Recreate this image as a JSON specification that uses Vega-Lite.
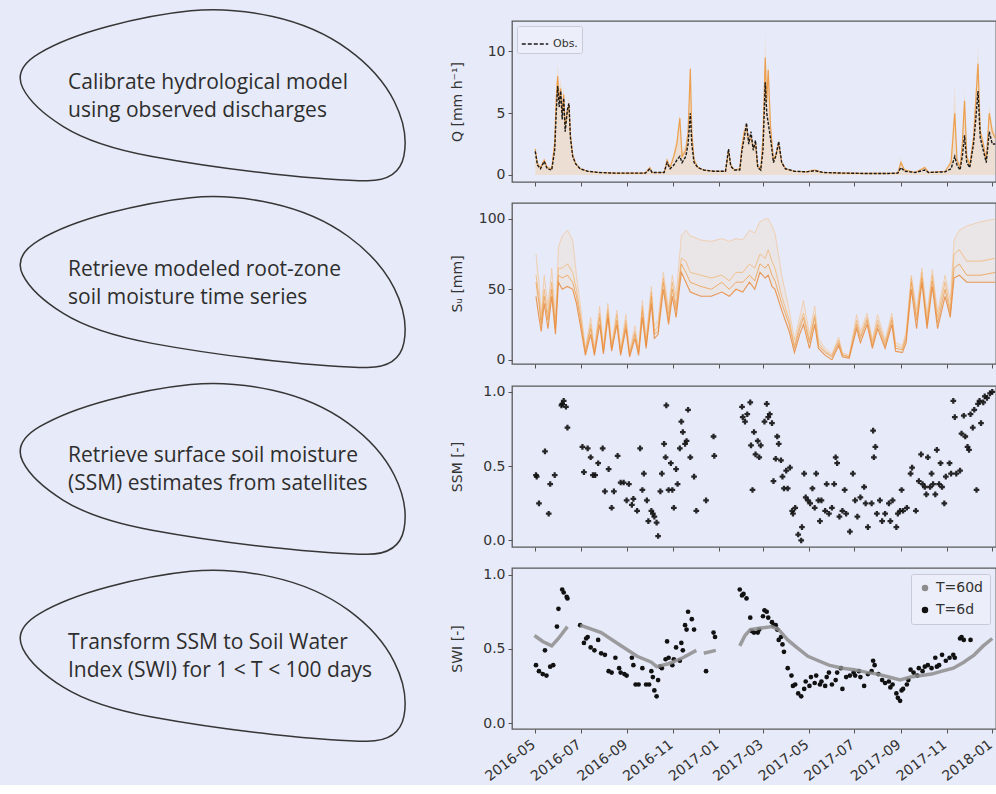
{
  "$schema": "https://vega.github.io/schema/vega-lite/v6.json",
  "background": "#e7eaf8",
  "padding": {"left": 0, "top": 6, "right": 0, "bottom": 0},
  "spacing": 29,
  "datasets": {
    "steps": [
      {"step": 1, "label": "Calibrate hydrological model\nusing observed discharges"},
      {"step": 2, "label": "Retrieve modeled root-zone\nsoil moisture time series"},
      {"step": 3, "label": "Retrieve surface soil moisture\n(SSM) estimates from satellites"},
      {"step": 4, "label": "Transform SSM to Soil Water\nIndex (SWI) for 1 < T < 100 days"}
    ],
    "q": [
      {"date":"2016-05-01","obs":1.9,"sim":2.1,"hi":2.4},
      {"date":"2016-05-04","obs":0.8,"sim":0.9,"hi":1.1},
      {"date":"2016-05-08","obs":0.5,"sim":0.6,"hi":0.7},
      {"date":"2016-05-13","obs":1.1,"sim":1.2,"hi":1.4},
      {"date":"2016-05-17","obs":0.5,"sim":0.6,"hi":0.7},
      {"date":"2016-05-23","obs":0.4,"sim":0.5,"hi":0.6},
      {"date":"2016-05-27","obs":2.0,"sim":2.6,"hi":3.2},
      {"date":"2016-05-29","obs":5.0,"sim":6.2,"hi":7.0},
      {"date":"2016-05-31","obs":7.2,"sim":8.0,"hi":9.0},
      {"date":"2016-06-02","obs":5.5,"sim":6.0,"hi":7.0},
      {"date":"2016-06-04","obs":6.8,"sim":7.0,"hi":7.8},
      {"date":"2016-06-06","obs":4.5,"sim":5.0,"hi":5.8},
      {"date":"2016-06-08","obs":6.2,"sim":6.5,"hi":7.2},
      {"date":"2016-06-10","obs":3.5,"sim":4.0,"hi":4.6},
      {"date":"2016-06-13","obs":5.3,"sim":5.2,"hi":5.8},
      {"date":"2016-06-15","obs":5.8,"sim":5.6,"hi":6.3},
      {"date":"2016-06-17","obs":3.0,"sim":3.2,"hi":3.8},
      {"date":"2016-06-20","obs":1.5,"sim":1.6,"hi":1.9},
      {"date":"2016-06-24","obs":0.9,"sim":0.9,"hi":1.1},
      {"date":"2016-06-30","obs":0.5,"sim":0.5,"hi":0.6},
      {"date":"2016-07-10","obs":0.3,"sim":0.3,"hi":0.35},
      {"date":"2016-07-25","obs":0.2,"sim":0.2,"hi":0.25},
      {"date":"2016-08-15","obs":0.15,"sim":0.15,"hi":0.2},
      {"date":"2016-09-05","obs":0.15,"sim":0.15,"hi":0.2},
      {"date":"2016-09-25","obs":0.15,"sim":0.15,"hi":0.2},
      {"date":"2016-10-01","obs":0.5,"sim":0.6,"hi":0.7},
      {"date":"2016-10-04","obs":0.2,"sim":0.2,"hi":0.25},
      {"date":"2016-10-20","obs":0.2,"sim":0.2,"hi":0.25},
      {"date":"2016-10-24","obs":1.0,"sim":1.2,"hi":1.4},
      {"date":"2016-10-28","obs":0.5,"sim":0.6,"hi":0.7},
      {"date":"2016-11-02","obs":0.8,"sim":1.5,"hi":2.0},
      {"date":"2016-11-06","obs":1.2,"sim":2.5,"hi":3.0},
      {"date":"2016-11-10","obs":1.5,"sim":4.6,"hi":5.0},
      {"date":"2016-11-13","obs":1.0,"sim":1.5,"hi":2.0},
      {"date":"2016-11-18","obs":1.5,"sim":2.0,"hi":2.4},
      {"date":"2016-11-21","obs":2.5,"sim":3.5,"hi":4.0},
      {"date":"2016-11-24","obs":5.0,"sim":8.6,"hi":9.3},
      {"date":"2016-11-26","obs":2.5,"sim":3.5,"hi":4.0},
      {"date":"2016-11-29","obs":1.0,"sim":1.2,"hi":1.5},
      {"date":"2016-12-04","obs":0.6,"sim":0.6,"hi":0.7},
      {"date":"2016-12-12","obs":0.4,"sim":0.4,"hi":0.45},
      {"date":"2016-12-25","obs":0.3,"sim":0.3,"hi":0.35},
      {"date":"2017-01-10","obs":0.3,"sim":0.3,"hi":0.35},
      {"date":"2017-01-14","obs":2.1,"sim":2.0,"hi":2.3},
      {"date":"2017-01-17","obs":0.7,"sim":0.8,"hi":0.9},
      {"date":"2017-01-22","obs":0.4,"sim":0.4,"hi":0.45},
      {"date":"2017-01-29","obs":0.4,"sim":0.5,"hi":0.6},
      {"date":"2017-02-01","obs":2.0,"sim":2.3,"hi":2.8},
      {"date":"2017-02-04","obs":3.0,"sim":3.5,"hi":4.0},
      {"date":"2017-02-07","obs":4.2,"sim":3.8,"hi":4.3},
      {"date":"2017-02-10","obs":2.5,"sim":2.8,"hi":3.2},
      {"date":"2017-02-13","obs":3.5,"sim":3.0,"hi":3.4},
      {"date":"2017-02-16","obs":2.0,"sim":2.2,"hi":2.5},
      {"date":"2017-02-19","obs":2.8,"sim":2.5,"hi":2.9},
      {"date":"2017-02-22","obs":0.6,"sim":0.7,"hi":0.9},
      {"date":"2017-02-26","obs":0.4,"sim":0.5,"hi":0.6},
      {"date":"2017-03-01","obs":2.0,"sim":3.0,"hi":4.0},
      {"date":"2017-03-04","obs":7.5,"sim":9.5,"hi":11.5},
      {"date":"2017-03-06","obs":5.0,"sim":6.0,"hi":7.0},
      {"date":"2017-03-08","obs":4.2,"sim":8.5,"hi":9.3},
      {"date":"2017-03-11","obs":3.0,"sim":4.0,"hi":4.5},
      {"date":"2017-03-15","obs":1.0,"sim":1.2,"hi":1.5},
      {"date":"2017-03-18","obs":1.5,"sim":1.6,"hi":1.8},
      {"date":"2017-03-22","obs":2.7,"sim":2.5,"hi":2.9},
      {"date":"2017-03-26","obs":1.0,"sim":1.0,"hi":1.2},
      {"date":"2017-03-31","obs":0.5,"sim":0.5,"hi":0.6},
      {"date":"2017-04-12","obs":0.3,"sim":0.3,"hi":0.35},
      {"date":"2017-04-28","obs":0.25,"sim":0.25,"hi":0.3},
      {"date":"2017-05-09","obs":0.35,"sim":0.4,"hi":0.5},
      {"date":"2017-05-20","obs":0.2,"sim":0.2,"hi":0.25},
      {"date":"2017-06-15","obs":0.15,"sim":0.15,"hi":0.2},
      {"date":"2017-07-15","obs":0.12,"sim":0.12,"hi":0.15},
      {"date":"2017-08-15","obs":0.12,"sim":0.12,"hi":0.15},
      {"date":"2017-08-28","obs":0.15,"sim":0.15,"hi":0.2},
      {"date":"2017-09-01","obs":0.6,"sim":1.0,"hi":1.4},
      {"date":"2017-09-06","obs":0.3,"sim":0.4,"hi":0.5},
      {"date":"2017-09-20","obs":0.2,"sim":0.2,"hi":0.25},
      {"date":"2017-10-03","obs":0.4,"sim":0.6,"hi":0.7},
      {"date":"2017-10-08","obs":0.2,"sim":0.2,"hi":0.25},
      {"date":"2017-10-30","obs":0.25,"sim":0.3,"hi":0.35},
      {"date":"2017-11-07","obs":0.5,"sim":1.0,"hi":1.3},
      {"date":"2017-11-12","obs":1.5,"sim":5.0,"hi":7.4},
      {"date":"2017-11-15","obs":0.8,"sim":1.2,"hi":1.5},
      {"date":"2017-11-19","obs":0.4,"sim":0.6,"hi":0.8},
      {"date":"2017-11-22","obs":1.5,"sim":2.5,"hi":3.0},
      {"date":"2017-11-25","obs":3.2,"sim":6.0,"hi":7.0},
      {"date":"2017-11-28","obs":1.0,"sim":1.5,"hi":1.8},
      {"date":"2017-12-02","obs":0.6,"sim":0.8,"hi":1.0},
      {"date":"2017-12-07","obs":2.5,"sim":3.0,"hi":3.5},
      {"date":"2017-12-10","obs":4.5,"sim":6.0,"hi":7.0},
      {"date":"2017-12-13","obs":6.8,"sim":9.0,"hi":10.5},
      {"date":"2017-12-16","obs":3.0,"sim":3.5,"hi":4.0},
      {"date":"2017-12-20","obs":2.0,"sim":2.5,"hi":3.0},
      {"date":"2017-12-24","obs":1.0,"sim":1.2,"hi":1.4},
      {"date":"2017-12-28","obs":3.5,"sim":5.0,"hi":5.6},
      {"date":"2018-01-01","obs":2.5,"sim":3.5,"hi":4.0},
      {"date":"2018-01-05","obs":2.5,"sim":3.0,"hi":3.5}
    ],
    "su": [
      {"date":"2016-05-02","s1":45,"s2":55,"s3":60,"s4":75},
      {"date":"2016-05-06","s1":30,"s2":40,"s3":45,"s4":55},
      {"date":"2016-05-09","s1":20,"s2":25,"s3":28,"s4":32},
      {"date":"2016-05-13","s1":40,"s2":45,"s3":50,"s4":60},
      {"date":"2016-05-18","s1":22,"s2":28,"s3":32,"s4":38},
      {"date":"2016-05-23","s1":45,"s2":50,"s3":55,"s4":65},
      {"date":"2016-05-28","s1":18,"s2":22,"s3":25,"s4":30},
      {"date":"2016-06-01","s1":55,"s2":60,"s3":65,"s4":80},
      {"date":"2016-06-06","s1":50,"s2":58,"s3":65,"s4":88},
      {"date":"2016-06-13","s1":52,"s2":60,"s3":68,"s4":92},
      {"date":"2016-06-20","s1":50,"s2":55,"s3":62,"s4":85},
      {"date":"2016-06-25","s1":40,"s2":45,"s3":50,"s4":60},
      {"date":"2016-06-30","s1":25,"s2":30,"s3":33,"s4":40},
      {"date":"2016-07-07","s1":3,"s2":5,"s3":6,"s4":8},
      {"date":"2016-07-14","s1":18,"s2":22,"s3":25,"s4":30},
      {"date":"2016-07-19","s1":3,"s2":5,"s3":6,"s4":8},
      {"date":"2016-07-26","s1":25,"s2":30,"s3":33,"s4":38},
      {"date":"2016-07-31","s1":4,"s2":6,"s3":7,"s4":9},
      {"date":"2016-08-06","s1":30,"s2":33,"s3":36,"s4":40},
      {"date":"2016-08-11","s1":6,"s2":8,"s3":9,"s4":11},
      {"date":"2016-08-18","s1":25,"s2":28,"s3":32,"s4":35},
      {"date":"2016-08-23","s1":3,"s2":5,"s3":6,"s4":8},
      {"date":"2016-08-30","s1":22,"s2":25,"s3":28,"s4":32},
      {"date":"2016-09-04","s1":2,"s2":3,"s3":4,"s4":6},
      {"date":"2016-09-11","s1":15,"s2":18,"s3":20,"s4":24},
      {"date":"2016-09-16","s1":3,"s2":5,"s3":6,"s4":8},
      {"date":"2016-09-21","s1":30,"s2":35,"s3":38,"s4":42},
      {"date":"2016-09-26","s1":8,"s2":10,"s3":12,"s4":15},
      {"date":"2016-10-03","s1":40,"s2":45,"s3":48,"s4":52},
      {"date":"2016-10-07","s1":15,"s2":18,"s3":20,"s4":24},
      {"date":"2016-10-12","s1":18,"s2":20,"s3":24,"s4":28},
      {"date":"2016-10-19","s1":50,"s2":55,"s3":58,"s4":62},
      {"date":"2016-10-26","s1":25,"s2":28,"s3":32,"s4":36},
      {"date":"2016-10-31","s1":45,"s2":50,"s3":55,"s4":60},
      {"date":"2016-11-05","s1":30,"s2":35,"s3":38,"s4":45},
      {"date":"2016-11-12","s1":62,"s2":68,"s3":72,"s4":88},
      {"date":"2016-11-18","s1":55,"s2":62,"s3":70,"s4":92},
      {"date":"2016-11-24","s1":48,"s2":55,"s3":62,"s4":88},
      {"date":"2016-12-08","s1":45,"s2":52,"s3":60,"s4":85},
      {"date":"2016-12-22","s1":45,"s2":50,"s3":58,"s4":84},
      {"date":"2017-01-05","s1":48,"s2":55,"s3":60,"s4":86},
      {"date":"2017-01-15","s1":45,"s2":50,"s3":56,"s4":84},
      {"date":"2017-01-24","s1":50,"s2":55,"s3":62,"s4":86},
      {"date":"2017-02-02","s1":48,"s2":55,"s3":62,"s4":85},
      {"date":"2017-02-11","s1":55,"s2":60,"s3":68,"s4":92},
      {"date":"2017-02-18","s1":50,"s2":56,"s3":65,"s4":90},
      {"date":"2017-02-25","s1":62,"s2":68,"s3":75,"s4":98},
      {"date":"2017-03-04","s1":58,"s2":65,"s3":72,"s4":100},
      {"date":"2017-03-08","s1":60,"s2":68,"s3":78,"s4":100},
      {"date":"2017-03-13","s1":52,"s2":60,"s3":70,"s4":95},
      {"date":"2017-03-17","s1":50,"s2":56,"s3":65,"s4":90},
      {"date":"2017-03-26","s1":35,"s2":40,"s3":45,"s4":60},
      {"date":"2017-04-05","s1":20,"s2":25,"s3":28,"s4":35},
      {"date":"2017-04-12","s1":5,"s2":8,"s3":10,"s4":14},
      {"date":"2017-04-19","s1":18,"s2":22,"s3":25,"s4":30},
      {"date":"2017-04-24","s1":25,"s2":30,"s3":33,"s4":42},
      {"date":"2017-05-02","s1":8,"s2":12,"s3":14,"s4":18},
      {"date":"2017-05-09","s1":25,"s2":30,"s3":32,"s4":38},
      {"date":"2017-05-14","s1":8,"s2":10,"s3":12,"s4":15},
      {"date":"2017-05-23","s1":3,"s2":5,"s3":6,"s4":8},
      {"date":"2017-06-01","s1":0,"s2":2,"s3":3,"s4":4},
      {"date":"2017-06-10","s1":10,"s2":12,"s3":14,"s4":16},
      {"date":"2017-06-15","s1":2,"s2":3,"s3":4,"s4":5},
      {"date":"2017-06-24","s1":1,"s2":2,"s3":2,"s4":3},
      {"date":"2017-07-04","s1":22,"s2":25,"s3":28,"s4":32},
      {"date":"2017-07-09","s1":12,"s2":15,"s3":17,"s4":20},
      {"date":"2017-07-18","s1":25,"s2":28,"s3":30,"s4":33},
      {"date":"2017-07-25","s1":8,"s2":10,"s3":12,"s4":14},
      {"date":"2017-08-01","s1":22,"s2":25,"s3":28,"s4":32},
      {"date":"2017-08-11","s1":8,"s2":10,"s3":12,"s4":14},
      {"date":"2017-08-20","s1":25,"s2":28,"s3":30,"s4":33},
      {"date":"2017-08-25","s1":6,"s2":8,"s3":10,"s4":12},
      {"date":"2017-09-03","s1":5,"s2":7,"s3":8,"s4":10},
      {"date":"2017-09-08","s1":12,"s2":15,"s3":17,"s4":20},
      {"date":"2017-09-15","s1":50,"s2":55,"s3":58,"s4":60},
      {"date":"2017-09-22","s1":22,"s2":28,"s3":30,"s4":35},
      {"date":"2017-09-29","s1":55,"s2":58,"s3":62,"s4":65},
      {"date":"2017-10-06","s1":22,"s2":25,"s3":28,"s4":32},
      {"date":"2017-10-13","s1":52,"s2":56,"s3":60,"s4":64},
      {"date":"2017-10-20","s1":22,"s2":26,"s3":30,"s4":34},
      {"date":"2017-10-30","s1":45,"s2":50,"s3":55,"s4":60},
      {"date":"2017-11-06","s1":30,"s2":33,"s3":36,"s4":42},
      {"date":"2017-11-11","s1":58,"s2":65,"s3":75,"s4":85},
      {"date":"2017-11-18","s1":60,"s2":68,"s3":78,"s4":92},
      {"date":"2017-11-28","s1":55,"s2":60,"s3":70,"s4":95},
      {"date":"2017-12-17","s1":55,"s2":60,"s3":70,"s4":98},
      {"date":"2018-01-05","s1":55,"s2":62,"s3":72,"s4":100}
    ],
    "ssm": [
      {"date":"2016-05-02","v":0.44},{"date":"2016-05-03","v":0.43},{"date":"2016-05-06","v":0.25},{"date":"2016-05-14","v":0.60},
      {"date":"2016-05-19","v":0.18},{"date":"2016-05-21","v":0.38},{"date":"2016-05-27","v":0.44},{"date":"2016-06-05","v":0.91},
      {"date":"2016-06-06","v":0.92},{"date":"2016-06-08","v":0.94},{"date":"2016-06-11","v":0.90},{"date":"2016-06-13","v":0.76},
      {"date":"2016-07-03","v":0.63},{"date":"2016-07-05","v":0.46},{"date":"2016-07-10","v":0.62},{"date":"2016-07-14","v":0.56},
      {"date":"2016-07-17","v":0.44},{"date":"2016-07-20","v":0.44},{"date":"2016-07-24","v":0.52},{"date":"2016-07-30","v":0.62},
      {"date":"2016-08-02","v":0.33},{"date":"2016-08-07","v":0.48},{"date":"2016-08-11","v":0.22},{"date":"2016-08-14","v":0.33},
      {"date":"2016-08-19","v":0.57},{"date":"2016-08-23","v":0.39},{"date":"2016-08-27","v":0.39},{"date":"2016-08-31","v":0.27},
      {"date":"2016-09-03","v":0.38},{"date":"2016-09-07","v":0.24},{"date":"2016-09-09","v":0.28},{"date":"2016-09-14","v":0.20},
      {"date":"2016-09-18","v":0.62},{"date":"2016-09-21","v":0.34},{"date":"2016-09-23","v":0.45},{"date":"2016-09-27","v":0.27},
      {"date":"2016-09-29","v":0.13},{"date":"2016-10-03","v":0.20},{"date":"2016-10-05","v":0.18},{"date":"2016-10-07","v":0.16},
      {"date":"2016-10-10","v":0.12},{"date":"2016-10-12","v":0.03},{"date":"2016-10-15","v":0.33},{"date":"2016-10-17","v":0.45},
      {"date":"2016-10-20","v":0.65},{"date":"2016-10-22","v":0.56},{"date":"2016-10-23","v":0.91},{"date":"2016-10-26","v":0.34},
      {"date":"2016-10-29","v":0.52},{"date":"2016-10-31","v":0.34},{"date":"2016-11-02","v":0.22},{"date":"2016-11-05","v":0.48},
      {"date":"2016-11-07","v":0.38},{"date":"2016-11-10","v":0.62},{"date":"2016-11-12","v":0.80},{"date":"2016-11-14","v":0.73},
      {"date":"2016-11-17","v":0.65},{"date":"2016-11-19","v":0.67},{"date":"2016-11-21","v":0.88},{"date":"2016-11-24","v":0.56},
      {"date":"2016-11-29","v":0.43},{"date":"2016-12-02","v":0.20},{"date":"2016-12-15","v":0.27},{"date":"2016-12-25","v":0.70},
      {"date":"2016-12-26","v":0.57},
      {"date":"2017-02-01","v":0.90},{"date":"2017-02-02","v":0.83},{"date":"2017-02-05","v":0.80},{"date":"2017-02-08","v":0.85},
      {"date":"2017-02-12","v":0.93},{"date":"2017-02-13","v":0.64},{"date":"2017-02-15","v":0.34},{"date":"2017-02-17","v":0.73},
      {"date":"2017-02-19","v":0.58},{"date":"2017-02-22","v":0.67},{"date":"2017-02-24","v":0.56},{"date":"2017-02-26","v":0.64},
      {"date":"2017-03-03","v":0.80},{"date":"2017-03-06","v":0.92},{"date":"2017-03-08","v":0.83},{"date":"2017-03-10","v":0.85},
      {"date":"2017-03-13","v":0.79},{"date":"2017-03-15","v":0.40},{"date":"2017-03-18","v":0.55},{"date":"2017-03-20","v":0.70},
      {"date":"2017-03-22","v":0.65},{"date":"2017-03-25","v":0.54},{"date":"2017-03-27","v":0.43},{"date":"2017-03-29","v":0.35},
      {"date":"2017-04-01","v":0.47},{"date":"2017-04-03","v":0.35},{"date":"2017-04-06","v":0.49},{"date":"2017-04-09","v":0.20},
      {"date":"2017-04-10","v":0.18},{"date":"2017-04-13","v":0.22},{"date":"2017-04-17","v":0.04},{"date":"2017-04-21","v":0.00},
      {"date":"2017-04-22","v":0.09},{"date":"2017-04-25","v":0.45},{"date":"2017-04-27","v":0.29},{"date":"2017-04-30","v":0.27},
      {"date":"2017-05-03","v":0.25},{"date":"2017-05-06","v":0.35},{"date":"2017-05-09","v":0.22},{"date":"2017-05-11","v":0.45},
      {"date":"2017-05-14","v":0.27},{"date":"2017-05-16","v":0.13},{"date":"2017-05-18","v":0.27},{"date":"2017-05-23","v":0.20},
      {"date":"2017-05-25","v":0.38},{"date":"2017-05-28","v":0.18},{"date":"2017-06-01","v":0.22},{"date":"2017-06-04","v":0.38},
      {"date":"2017-06-06","v":0.56},{"date":"2017-06-08","v":0.52},{"date":"2017-06-11","v":0.16},{"date":"2017-06-15","v":0.20},
      {"date":"2017-06-18","v":0.34},{"date":"2017-06-20","v":0.18},{"date":"2017-06-25","v":0.06},{"date":"2017-06-29","v":0.45},
      {"date":"2017-07-02","v":0.27},{"date":"2017-07-05","v":0.16},{"date":"2017-07-09","v":0.29},{"date":"2017-07-14","v":0.36},
      {"date":"2017-07-16","v":0.25},{"date":"2017-07-19","v":0.09},{"date":"2017-07-24","v":0.25},{"date":"2017-07-26","v":0.74},
      {"date":"2017-07-27","v":0.56},{"date":"2017-07-29","v":0.63},{"date":"2017-07-31","v":0.18},{"date":"2017-08-04","v":0.27},
      {"date":"2017-08-07","v":0.13},{"date":"2017-08-11","v":0.18},{"date":"2017-08-16","v":0.25},{"date":"2017-08-18","v":0.13},
      {"date":"2017-08-21","v":0.27},{"date":"2017-08-26","v":0.09},{"date":"2017-08-28","v":0.18},{"date":"2017-08-31","v":0.20},
      {"date":"2017-09-02","v":0.34},{"date":"2017-09-04","v":0.20},{"date":"2017-09-09","v":0.22},{"date":"2017-09-14","v":0.45},
      {"date":"2017-09-16","v":0.49},{"date":"2017-09-21","v":0.20},{"date":"2017-09-25","v":0.40},{"date":"2017-09-28","v":0.58},
      {"date":"2017-09-30","v":0.38},{"date":"2017-10-03","v":0.36},{"date":"2017-10-05","v":0.31},{"date":"2017-10-07","v":0.56},
      {"date":"2017-10-10","v":0.36},{"date":"2017-10-12","v":0.45},{"date":"2017-10-14","v":0.38},{"date":"2017-10-17","v":0.31},
      {"date":"2017-10-19","v":0.61},{"date":"2017-10-22","v":0.38},{"date":"2017-10-24","v":0.52},{"date":"2017-10-26","v":0.36},
      {"date":"2017-10-29","v":0.25},{"date":"2017-10-31","v":0.43},{"date":"2017-11-05","v":0.52},{"date":"2017-11-07","v":0.45},
      {"date":"2017-11-10","v":0.94},{"date":"2017-11-12","v":0.83},{"date":"2017-11-14","v":0.45},{"date":"2017-11-19","v":0.47},
      {"date":"2017-11-21","v":0.72},{"date":"2017-11-24","v":0.84},{"date":"2017-11-26","v":0.70},{"date":"2017-11-29","v":0.63},
      {"date":"2017-12-01","v":0.61},{"date":"2017-12-03","v":0.85},{"date":"2017-12-06","v":0.76},{"date":"2017-12-08","v":0.88},
      {"date":"2017-12-11","v":0.34},{"date":"2017-12-13","v":0.92},{"date":"2017-12-15","v":0.94},{"date":"2017-12-17","v":0.79},
      {"date":"2017-12-20","v":0.93},{"date":"2017-12-22","v":0.97},{"date":"2017-12-25","v":0.96},{"date":"2017-12-29","v":0.99},
      {"date":"2018-01-01","v":1.00}
    ],
    "swi": [
      {"date":"2016-04-30","v":0.59,"series":"T=60d","seg":1},
      {"date":"2016-05-11","v":0.55,"series":"T=60d","seg":1},
      {"date":"2016-05-23","v":0.52,"series":"T=60d","seg":1},
      {"date":"2016-06-01","v":0.57,"series":"T=60d","seg":1},
      {"date":"2016-06-13","v":0.65,"series":"T=60d","seg":1},
      {"date":"2016-06-30","v":0.66,"series":"T=60d","seg":2},
      {"date":"2016-07-28","v":0.61,"series":"T=60d","seg":2},
      {"date":"2016-08-21","v":0.53,"series":"T=60d","seg":2},
      {"date":"2016-09-14","v":0.45,"series":"T=60d","seg":2},
      {"date":"2016-10-03","v":0.41,"series":"T=60d","seg":2},
      {"date":"2016-10-10","v":0.38,"series":"T=60d","seg":2},
      {"date":"2016-10-26","v":0.40,"series":"T=60d","seg":2},
      {"date":"2016-11-14","v":0.44,"series":"T=60d","seg":2},
      {"date":"2016-12-02","v":0.49,"series":"T=60d","seg":2},
      {"date":"2016-12-12","v":0.47,"series":"T=60d","seg":3},
      {"date":"2016-12-28","v":0.49,"series":"T=60d","seg":3},
      {"date":"2017-01-29","v":0.52,"series":"T=60d","seg":4},
      {"date":"2017-02-05","v":0.59,"series":"T=60d","seg":4},
      {"date":"2017-02-12","v":0.63,"series":"T=60d","seg":4},
      {"date":"2017-02-26","v":0.64,"series":"T=60d","seg":4},
      {"date":"2017-03-13","v":0.65,"series":"T=60d","seg":4},
      {"date":"2017-03-22","v":0.63,"series":"T=60d","seg":4},
      {"date":"2017-04-03","v":0.56,"series":"T=60d","seg":4},
      {"date":"2017-04-15","v":0.51,"series":"T=60d","seg":4},
      {"date":"2017-04-30","v":0.45,"series":"T=60d","seg":4},
      {"date":"2017-05-14","v":0.42,"series":"T=60d","seg":4},
      {"date":"2017-05-28","v":0.39,"series":"T=60d","seg":4},
      {"date":"2017-06-15","v":0.37,"series":"T=60d","seg":4},
      {"date":"2017-07-01","v":0.36,"series":"T=60d","seg":4},
      {"date":"2017-07-19","v":0.34,"series":"T=60d","seg":4},
      {"date":"2017-08-01","v":0.33,"series":"T=60d","seg":4},
      {"date":"2017-08-16","v":0.31,"series":"T=60d","seg":4},
      {"date":"2017-08-31","v":0.29,"series":"T=60d","seg":4},
      {"date":"2017-09-14","v":0.31,"series":"T=60d","seg":4},
      {"date":"2017-09-28","v":0.32,"series":"T=60d","seg":4},
      {"date":"2017-10-12","v":0.33,"series":"T=60d","seg":4},
      {"date":"2017-10-26","v":0.35,"series":"T=60d","seg":4},
      {"date":"2017-11-10","v":0.37,"series":"T=60d","seg":4},
      {"date":"2017-11-24","v":0.41,"series":"T=60d","seg":4},
      {"date":"2017-12-08","v":0.46,"series":"T=60d","seg":4},
      {"date":"2017-12-20","v":0.52,"series":"T=60d","seg":4},
      {"date":"2018-01-01","v":0.57,"series":"T=60d","seg":4},
      {"date":"2016-05-02","v":0.39,"series":"T=6d"},{"date":"2016-05-06","v":0.35,"series":"T=6d"},{"date":"2016-05-11","v":0.33,"series":"T=6d"},
      {"date":"2016-05-14","v":0.49,"series":"T=6d"},{"date":"2016-05-16","v":0.32,"series":"T=6d"},{"date":"2016-05-21","v":0.38,"series":"T=6d"},
      {"date":"2016-05-25","v":0.39,"series":"T=6d"},{"date":"2016-05-30","v":0.65,"series":"T=6d"},{"date":"2016-06-01","v":0.77,"series":"T=6d"},
      {"date":"2016-06-06","v":0.90,"series":"T=6d"},{"date":"2016-06-08","v":0.88,"series":"T=6d"},{"date":"2016-06-12","v":0.85,"series":"T=6d"},
      {"date":"2016-06-13","v":0.84,"series":"T=6d"},{"date":"2016-06-30","v":0.66,"series":"T=6d"},{"date":"2016-07-05","v":0.54,"series":"T=6d"},
      {"date":"2016-07-08","v":0.57,"series":"T=6d"},{"date":"2016-07-10","v":0.58,"series":"T=6d"},{"date":"2016-07-14","v":0.51,"series":"T=6d"},
      {"date":"2016-07-19","v":0.49,"series":"T=6d"},{"date":"2016-07-24","v":0.56,"series":"T=6d"},{"date":"2016-07-28","v":0.47,"series":"T=6d"},
      {"date":"2016-08-02","v":0.46,"series":"T=6d"},{"date":"2016-08-07","v":0.35,"series":"T=6d"},{"date":"2016-08-11","v":0.34,"series":"T=6d"},
      {"date":"2016-08-16","v":0.44,"series":"T=6d"},{"date":"2016-08-21","v":0.37,"series":"T=6d"},{"date":"2016-08-23","v":0.34,"series":"T=6d"},
      {"date":"2016-08-28","v":0.33,"series":"T=6d"},{"date":"2016-08-31","v":0.32,"series":"T=6d"},{"date":"2016-09-07","v":0.44,"series":"T=6d"},
      {"date":"2016-09-09","v":0.39,"series":"T=6d"},{"date":"2016-09-12","v":0.26,"series":"T=6d"},{"date":"2016-09-16","v":0.26,"series":"T=6d"},
      {"date":"2016-09-21","v":0.37,"series":"T=6d"},{"date":"2016-09-26","v":0.26,"series":"T=6d"},{"date":"2016-09-30","v":0.26,"series":"T=6d"},
      {"date":"2016-10-03","v":0.35,"series":"T=6d"},{"date":"2016-10-05","v":0.31,"series":"T=6d"},{"date":"2016-10-07","v":0.22,"series":"T=6d"},
      {"date":"2016-10-10","v":0.18,"series":"T=6d"},{"date":"2016-10-12","v":0.29,"series":"T=6d"},{"date":"2016-10-15","v":0.38,"series":"T=6d"},
      {"date":"2016-10-17","v":0.37,"series":"T=6d"},{"date":"2016-10-22","v":0.43,"series":"T=6d"},{"date":"2016-10-24","v":0.55,"series":"T=6d"},
      {"date":"2016-10-26","v":0.44,"series":"T=6d"},{"date":"2016-10-31","v":0.39,"series":"T=6d"},{"date":"2016-11-02","v":0.43,"series":"T=6d"},
      {"date":"2016-11-05","v":0.51,"series":"T=6d"},{"date":"2016-11-10","v":0.42,"series":"T=6d"},{"date":"2016-11-12","v":0.54,"series":"T=6d"},
      {"date":"2016-11-14","v":0.49,"series":"T=6d"},{"date":"2016-11-17","v":0.66,"series":"T=6d"},{"date":"2016-11-19","v":0.63,"series":"T=6d"},
      {"date":"2016-11-21","v":0.75,"series":"T=6d"},{"date":"2016-11-26","v":0.70,"series":"T=6d"},{"date":"2016-11-29","v":0.63,"series":"T=6d"},
      {"date":"2016-12-15","v":0.35,"series":"T=6d"},{"date":"2016-12-25","v":0.61,"series":"T=6d"},{"date":"2016-12-27","v":0.58,"series":"T=6d"},
      {"date":"2017-01-29","v":0.90,"series":"T=6d"},{"date":"2017-02-01","v":0.86,"series":"T=6d"},{"date":"2017-02-03","v":0.87,"series":"T=6d"},
      {"date":"2017-02-07","v":0.84,"series":"T=6d"},{"date":"2017-02-12","v":0.71,"series":"T=6d"},{"date":"2017-02-14","v":0.62,"series":"T=6d"},
      {"date":"2017-02-17","v":0.61,"series":"T=6d"},{"date":"2017-02-22","v":0.61,"series":"T=6d"},{"date":"2017-02-24","v":0.63,"series":"T=6d"},
      {"date":"2017-03-01","v":0.72,"series":"T=6d"},{"date":"2017-03-03","v":0.76,"series":"T=6d"},{"date":"2017-03-06","v":0.75,"series":"T=6d"},
      {"date":"2017-03-08","v":0.71,"series":"T=6d"},{"date":"2017-03-13","v":0.68,"series":"T=6d"},{"date":"2017-03-15","v":0.66,"series":"T=6d"},
      {"date":"2017-03-18","v":0.66,"series":"T=6d"},{"date":"2017-03-20","v":0.63,"series":"T=6d"},{"date":"2017-03-22","v":0.56,"series":"T=6d"},
      {"date":"2017-03-25","v":0.58,"series":"T=6d"},{"date":"2017-03-27","v":0.53,"series":"T=6d"},{"date":"2017-03-29","v":0.48,"series":"T=6d"},
      {"date":"2017-04-03","v":0.37,"series":"T=6d"},{"date":"2017-04-08","v":0.32,"series":"T=6d"},{"date":"2017-04-10","v":0.25,"series":"T=6d"},
      {"date":"2017-04-13","v":0.26,"series":"T=6d"},{"date":"2017-04-17","v":0.20,"series":"T=6d"},{"date":"2017-04-21","v":0.18,"series":"T=6d"},
      {"date":"2017-04-25","v":0.23,"series":"T=6d"},{"date":"2017-04-27","v":0.28,"series":"T=6d"},{"date":"2017-05-02","v":0.25,"series":"T=6d"},
      {"date":"2017-05-04","v":0.31,"series":"T=6d"},{"date":"2017-05-09","v":0.27,"series":"T=6d"},{"date":"2017-05-11","v":0.32,"series":"T=6d"},
      {"date":"2017-05-16","v":0.26,"series":"T=6d"},{"date":"2017-05-18","v":0.28,"series":"T=6d"},{"date":"2017-05-23","v":0.25,"series":"T=6d"},
      {"date":"2017-05-25","v":0.31,"series":"T=6d"},{"date":"2017-05-28","v":0.34,"series":"T=6d"},{"date":"2017-06-01","v":0.26,"series":"T=6d"},
      {"date":"2017-06-06","v":0.29,"series":"T=6d"},{"date":"2017-06-08","v":0.34,"series":"T=6d"},{"date":"2017-06-13","v":0.37,"series":"T=6d"},
      {"date":"2017-06-15","v":0.23,"series":"T=6d"},{"date":"2017-06-20","v":0.31,"series":"T=6d"},{"date":"2017-06-25","v":0.32,"series":"T=6d"},
      {"date":"2017-06-30","v":0.34,"series":"T=6d"},{"date":"2017-07-02","v":0.32,"series":"T=6d"},{"date":"2017-07-07","v":0.35,"series":"T=6d"},
      {"date":"2017-07-09","v":0.31,"series":"T=6d"},{"date":"2017-07-14","v":0.25,"series":"T=6d"},{"date":"2017-07-19","v":0.33,"series":"T=6d"},
      {"date":"2017-07-24","v":0.35,"series":"T=6d"},{"date":"2017-07-26","v":0.42,"series":"T=6d"},{"date":"2017-07-28","v":0.39,"series":"T=6d"},
      {"date":"2017-08-02","v":0.33,"series":"T=6d"},{"date":"2017-08-07","v":0.29,"series":"T=6d"},{"date":"2017-08-11","v":0.27,"series":"T=6d"},
      {"date":"2017-08-16","v":0.28,"series":"T=6d"},{"date":"2017-08-18","v":0.24,"series":"T=6d"},{"date":"2017-08-21","v":0.26,"series":"T=6d"},
      {"date":"2017-08-26","v":0.20,"series":"T=6d"},{"date":"2017-08-28","v":0.17,"series":"T=6d"},{"date":"2017-08-31","v":0.15,"series":"T=6d"},
      {"date":"2017-09-02","v":0.22,"series":"T=6d"},{"date":"2017-09-04","v":0.23,"series":"T=6d"},{"date":"2017-09-09","v":0.26,"series":"T=6d"},
      {"date":"2017-09-11","v":0.29,"series":"T=6d"},{"date":"2017-09-14","v":0.36,"series":"T=6d"},{"date":"2017-09-18","v":0.34,"series":"T=6d"},
      {"date":"2017-09-23","v":0.32,"series":"T=6d"},{"date":"2017-09-25","v":0.37,"series":"T=6d"},{"date":"2017-09-30","v":0.35,"series":"T=6d"},
      {"date":"2017-10-03","v":0.38,"series":"T=6d"},{"date":"2017-10-07","v":0.39,"series":"T=6d"},{"date":"2017-10-12","v":0.37,"series":"T=6d"},
      {"date":"2017-10-17","v":0.44,"series":"T=6d"},{"date":"2017-10-19","v":0.38,"series":"T=6d"},{"date":"2017-10-22","v":0.39,"series":"T=6d"},
      {"date":"2017-10-26","v":0.46,"series":"T=6d"},{"date":"2017-10-31","v":0.42,"series":"T=6d"},{"date":"2017-11-05","v":0.44,"series":"T=6d"},
      {"date":"2017-11-10","v":0.46,"series":"T=6d"},{"date":"2017-11-12","v":0.44,"series":"T=6d"},{"date":"2017-11-19","v":0.57,"series":"T=6d"},
      {"date":"2017-11-21","v":0.58,"series":"T=6d"},{"date":"2017-11-24","v":0.56,"series":"T=6d"},{"date":"2017-12-03","v":0.56,"series":"T=6d"}
    ]
  },
  "hconcat": [
    {
      "width": 420,
      "height": 710,
      "view": {"stroke": null},
      "data": {"name": "steps"},
      "encoding": {
        "y": {"field": "step", "type": "ordinal", "scale": {"type": "point", "padding": 0.4}, "axis": null}
      },
      "layer": [
        {
          "mark": {"type": "point", "shape": "M -0.885 -0.22 Q -0.75 -0.30 -0.525 -0.36 Q -0.30 -0.42 -0.10 -0.44 Q 0.10 -0.46 0.325 -0.41 Q 0.55 -0.36 0.715 -0.24 Q 0.88 -0.12 0.955 0.03 Q 1.03 0.18 1.005 0.31 Q 0.98 0.44 0.815 0.44 Q 0.65 0.44 0.325 0.405 Q 0 0.37 -0.30 0.315 Q -0.60 0.26 -0.76 0.16 Q -0.92 0.06 -0.97 -0.04 Q -1.02 -0.14 -0.885 -0.22 Z", "size": 148996, "filled": false, "stroke": "#363636", "strokeWidth": 1.5, "opacity": 1}
        },
        {
          "mark": {"type": "text", "align": "left", "baseline": "middle", "dx": -142, "dy": -13, "font": "Open Sans", "fontSize": 21, "lineHeight": 28, "lineBreak": "\n", "color": "#2e2e2e"},
          "encoding": {"text": {"field": "label"}}
        }
      ]
    },
    {
      "resolve": {"scale": {"color": "independent"}, "legend": {"color": "independent"}},
      "spacing": 14,
      "vconcat": [
        {
          "width": 484,
          "height": 161,
          "data": {"name": "q"},
          "encoding": {
            "x": {"field": "date", "type": "temporal",
              "scale": {"domain": [{"year": 2016, "month": 3, "date": 31}, {"year": 2018, "month": 1, "date": 6}]},
              "axis": {"title": null, "labels": false, "values": [{"year":2016,"month":5,"date":1},{"year":2016,"month":7,"date":1},{"year":2016,"month":9,"date":1},{"year":2016,"month":11,"date":1},{"year":2017,"month":1,"date":1},{"year":2017,"month":3,"date":1},{"year":2017,"month":5,"date":1},{"year":2017,"month":7,"date":1},{"year":2017,"month":9,"date":1},{"year":2017,"month":11,"date":1},{"year":2018,"month":1,"date":1}]}}
          },
          "layer": [
            {
              "mark": {"type": "area", "color": "#f8c27a", "opacity": 0.3},
              "encoding": {"y": {"field": "hi", "type": "quantitative", "scale": {"domain": [-0.57, 12.46], "nice": false, "zero": false},
                "axis": {"values": [0, 5, 10], "title": "Q [mm h⁻¹]", "titleX": -48}}}
            },
            {
              "mark": {"type": "line", "color": "#ec9436", "strokeWidth": 1.2, "opacity": 0.85},
              "encoding": {"y": {"field": "sim", "type": "quantitative", "scale": {"domain": [-0.57, 12.46], "nice": false, "zero": false}}}
            },
            {
              "mark": {"type": "line", "strokeWidth": 1.4, "strokeDash": [3, 1.5]},
              "encoding": {
                "y": {"field": "obs", "type": "quantitative", "scale": {"domain": [-0.57, 12.46], "nice": false, "zero": false}},
                "color": {"datum": "Obs.", "scale": {"range": ["#1a1a1a"]},
                  "legend": {"title": null, "orient": "top-left", "offset": 5, "symbolType": "stroke", "symbolDash": [4, 2], "symbolStrokeWidth": 1.5, "symbolSize": 700, "labelFontSize": 11, "fillColor": "#eceefa", "strokeColor": "#c9cad8", "padding": 4, "cornerRadius": 2}}
              }
            }
          ]
        },
        {
          "width": 484,
          "height": 161,
          "data": {"name": "su"},
          "encoding": {
            "x": {"field": "date", "type": "temporal",
              "scale": {"domain": [{"year": 2016, "month": 3, "date": 31}, {"year": 2018, "month": 1, "date": 6}]},
              "axis": {"title": null, "labels": false, "values": [{"year":2016,"month":5,"date":1},{"year":2016,"month":7,"date":1},{"year":2016,"month":9,"date":1},{"year":2016,"month":11,"date":1},{"year":2017,"month":1,"date":1},{"year":2017,"month":3,"date":1},{"year":2017,"month":5,"date":1},{"year":2017,"month":7,"date":1},{"year":2017,"month":9,"date":1},{"year":2017,"month":11,"date":1},{"year":2018,"month":1,"date":1}]}}
          },
          "layer": [
            {
              "mark": {"type": "area", "color": "#f8d3a0", "opacity": 0.2},
              "encoding": {"y": {"field": "s4", "type": "quantitative", "scale": {"domain": [-3.1, 111.3], "nice": false, "zero": false},
                "axis": {"values": [0, 50, 100], "title": "Sᵤ [mm]", "titleX": -48}}, "y2": {"field": "s1"}}
            },
            {
              "mark": {"type": "line", "color": "#f4c08c", "strokeWidth": 1, "opacity": 0.6},
              "encoding": {"y": {"field": "s4", "type": "quantitative", "scale": {"domain": [-3.1, 111.3], "nice": false, "zero": false}}}
            },
            {
              "mark": {"type": "line", "color": "#f2b06a", "strokeWidth": 1, "opacity": 0.7},
              "encoding": {"y": {"field": "s3", "type": "quantitative", "scale": {"domain": [-3.1, 111.3], "nice": false, "zero": false}}}
            },
            {
              "mark": {"type": "line", "color": "#ee9f4e", "strokeWidth": 1, "opacity": 0.8},
              "encoding": {"y": {"field": "s2", "type": "quantitative", "scale": {"domain": [-3.1, 111.3], "nice": false, "zero": false}}}
            },
            {
              "mark": {"type": "line", "color": "#e8883a", "strokeWidth": 1.1, "opacity": 0.85},
              "encoding": {"y": {"field": "s1", "type": "quantitative", "scale": {"domain": [-3.1, 111.3], "nice": false, "zero": false}}}
            }
          ]
        },
        {
          "width": 484,
          "height": 161,
          "data": {"name": "ssm"},
          "mark": {"type": "point", "shape": "cross", "filled": true, "size": 32, "color": "#111111", "opacity": 0.9},
          "encoding": {
            "x": {"field": "date", "type": "temporal",
              "scale": {"domain": [{"year": 2016, "month": 3, "date": 31}, {"year": 2018, "month": 1, "date": 6}]},
              "axis": {"title": null, "labels": false, "values": [{"year":2016,"month":5,"date":1},{"year":2016,"month":7,"date":1},{"year":2016,"month":9,"date":1},{"year":2016,"month":11,"date":1},{"year":2017,"month":1,"date":1},{"year":2017,"month":3,"date":1},{"year":2017,"month":5,"date":1},{"year":2017,"month":7,"date":1},{"year":2017,"month":9,"date":1},{"year":2017,"month":11,"date":1},{"year":2018,"month":1,"date":1}]}},
            "y": {"field": "v", "type": "quantitative", "scale": {"domain": [-0.044, 1.04], "nice": false, "zero": false},
              "axis": {"values": [0, 0.5, 1], "format": ".1f", "title": "SSM [-]", "titleX": -48}}
          }
        },
        {
          "width": 484,
          "height": 161,
          "data": {"name": "swi"},
          "encoding": {
            "x": {"field": "date", "type": "temporal",
              "scale": {"domain": [{"year": 2016, "month": 3, "date": 31}, {"year": 2018, "month": 1, "date": 6}]},
              "axis": {"title": null, "format": "%Y-%m", "labelAngle": -37, "labelAlign": "right", "labelBaseline": "top", "labelPadding": 4, "labelOffset": -6, "labelOverlap": false, "labelFontSize": 14, "labelBound": false, "values": [{"year":2016,"month":5,"date":1},{"year":2016,"month":7,"date":1},{"year":2016,"month":9,"date":1},{"year":2016,"month":11,"date":1},{"year":2017,"month":1,"date":1},{"year":2017,"month":3,"date":1},{"year":2017,"month":5,"date":1},{"year":2017,"month":7,"date":1},{"year":2017,"month":9,"date":1},{"year":2017,"month":11,"date":1},{"year":2018,"month":1,"date":1}]}},
            "y": {"field": "v", "type": "quantitative", "scale": {"domain": [-0.04, 1.045], "nice": false, "zero": false},
              "axis": {"values": [0, 0.5, 1], "format": ".1f", "title": "SWI [-]", "titleX": -48}},
            "color": {"field": "series", "type": "nominal", "scale": {"domain": ["T=60d", "T=6d"], "range": ["#8d8d8d", "#111111"]},
              "legend": {"title": null, "orient": "top-right", "offset": 6, "symbolType": "circle", "symbolSize": 25, "labelFontSize": 14, "fillColor": "#eceefa", "strokeColor": "#c9cad8", "padding": 7, "rowPadding": 8, "cornerRadius": 2}}
          },
          "layer": [
            {
              "transform": [{"filter": "datum.series === 'T=6d'"}],
              "mark": {"type": "point", "filled": true, "size": 22, "opacity": 1}
            },
            {
              "transform": [{"filter": "datum.series === 'T=60d'"}],
              "mark": {"type": "line", "strokeWidth": 3.5, "opacity": 0.85},
              "encoding": {"detail": {"field": "seg", "type": "nominal"}}
            }
          ]
        }
      ]
    }
  ],
  "config": {
    "font": "DejaVu Sans",
    "view": {"stroke": "#5a5a5a", "strokeWidth": 1.3},
    "axis": {"grid": false, "domain": false, "tickColor": "#555555", "tickSize": 4, "labelColor": "#333333", "titleColor": "#333333", "labelFont": "DejaVu Sans", "titleFont": "DejaVu Sans", "labelFontSize": 14, "titleFontSize": 14, "titleFontWeight": "normal", "labelPadding": 3},
    "legend": {"labelFont": "DejaVu Sans", "labelColor": "#333333"}
  }
}
